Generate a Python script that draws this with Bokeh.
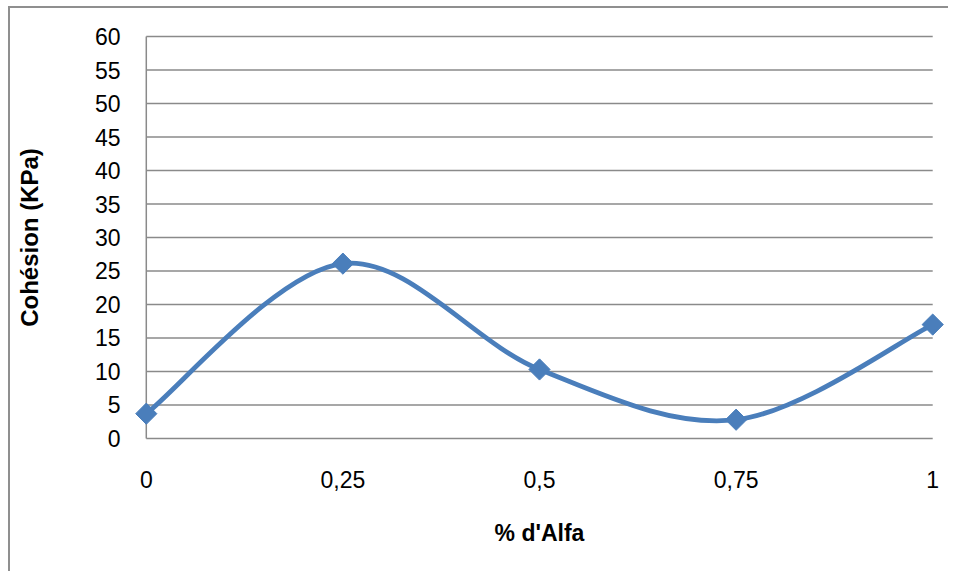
import numpy as np
from bokeh.plotting import figure
from bokeh.models import FixedTicker, CustomJSTickFormatter, Range1d
from bokeh.embed import file_html
from bokeh.resources import INLINE

# ---- data ----
x_vals = [0, 0.25, 0.5, 0.75, 1]
x_labels = ["0", "0,25", "0,5", "0,75", "1"]
cohesion = [3.7, 26.1, 10.3, 2.8, 17.0]
y_ticks = list(range(0, 65, 5))

BLUE = "#4a7ebb"
GRID = "#8a8a8a"

p = figure(width=940, height=565, output_backend="svg", toolbar_location=None,
           x_range=Range1d(-0.015, 1.015), y_range=Range1d(-0.6, 60.6),
           min_border_left=124, min_border_right=6, min_border_top=24, min_border_bottom=131)
p.styles = {"border-left": "2px solid #8f8f8f", "border-top": "2px solid #8f8f8f",
            "margin-left": "8px", "margin-top": "6px"}
p.outline_line_color = None
p.xgrid.visible = False
p.ygrid.visible = False

# grid lines (horizontal) spanning the data extent
p.segment(x0=[x_vals[0]] * len(y_ticks), x1=[x_vals[-1]] * len(y_ticks), y0=y_ticks, y1=y_ticks,
          line_color=GRID, line_width=1.5)
# y-axis line at x = 0
p.segment(x0=[x_vals[0]], x1=[x_vals[0]], y0=[y_ticks[0]], y1=[y_ticks[-1]], line_color=GRID, line_width=1.5)

# smoothed (Catmull-Rom style) line through the points, as Bezier segments
xs = np.array(x_vals, dtype=float)
ys = np.array(cohesion, dtype=float)
px = np.concatenate([[xs[0]], xs, [xs[-1]]])
py = np.concatenate([[ys[0]], ys, [ys[-1]]])
n = len(xs)
x0 = xs[:-1]; y0 = ys[:-1]; x1 = xs[1:]; y1 = ys[1:]
cx0 = xs[:-1] + (px[2:n + 1] - px[0:n - 1]) / 6
cy0 = ys[:-1] + (py[2:n + 1] - py[0:n - 1]) / 6
cx1 = xs[1:] - (px[3:n + 2] - px[1:n]) / 6
cy1 = ys[1:] - (py[3:n + 2] - py[1:n]) / 6
p.bezier(x0=x0, y0=y0, x1=x1, y1=y1, cx0=cx0, cy0=cy0, cx1=cx1, cy1=cy1,
         line_color=BLUE, line_width=4.8)

p.scatter(x_vals, cohesion, marker="square", angle=np.pi / 4, size=15,
          fill_color=BLUE, line_color=BLUE)

FONT = "Liberation Sans"
# x axis
xa = p.xaxis[0]
xa.ticker = FixedTicker(ticks=x_vals)
xa.formatter = CustomJSTickFormatter(args=dict(xt=x_vals, xl=x_labels),
                                     code="const i = xt.indexOf(tick); return i >= 0 ? xl[i] : '';")
xa.axis_line_color = None
xa.major_tick_line_color = None
xa.minor_tick_line_color = None
xa.major_label_text_font = FONT
xa.major_label_text_font_size = "23px"
xa.major_label_text_color = "black"
xa.major_label_standoff = 22
xa.axis_label = "% d'Alfa"
xa.axis_label_text_font = FONT
xa.axis_label_text_font_style = "bold"
xa.axis_label_text_font_size = "23px"
xa.axis_label_text_color = "black"
xa.axis_label_standoff = 29

# y axis
ya = p.yaxis[0]
ya.ticker = FixedTicker(ticks=y_ticks)
ya.axis_line_color = None
ya.major_tick_line_color = None
ya.minor_tick_line_color = None
ya.major_label_text_font = FONT
ya.major_label_text_font_size = "23px"
ya.major_label_text_color = "black"
ya.major_label_standoff = 8
ya.axis_label = "Cohésion (KPa)"
ya.axis_label_text_font = FONT
ya.axis_label_text_font_style = "bold"
ya.axis_label_text_font_size = "24px"
ya.axis_label_text_color = "black"
ya.axis_label_standoff = 49

open("out.html", "w").write(file_html(p, INLINE))
